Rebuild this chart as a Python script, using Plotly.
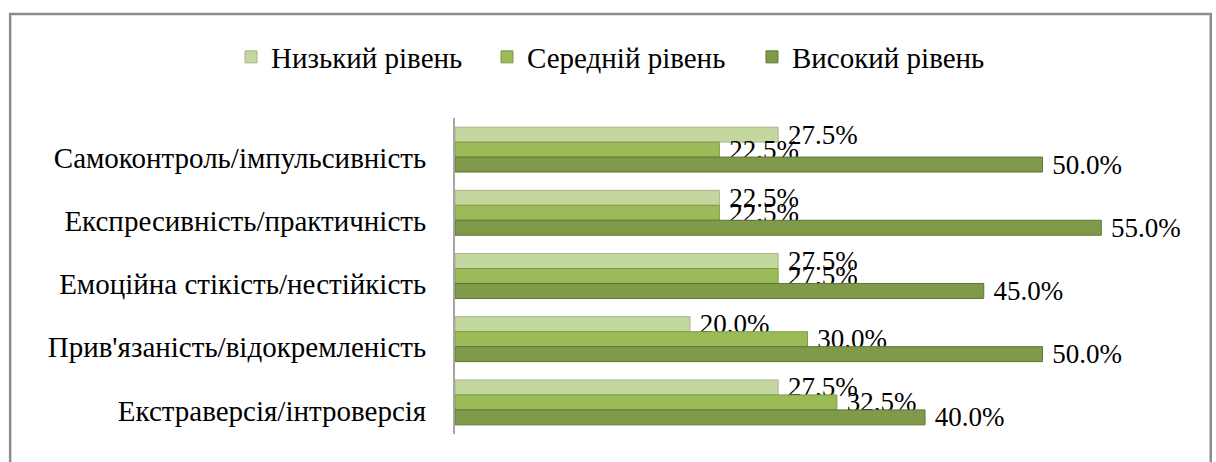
import plotly.graph_objects as go

# Scales (top to bottom as shown)
categories = [
    "Самоконтроль/імпульсивність",
    "Експресивність/практичність",
    "Емоційна стікість/нестійкість",
    "Прив'язаність/відокремленість",
    "Екстраверсія/інтроверсія",
]

low_level = [27.5, 22.5, 27.5, 20.0, 27.5]
mid_level = [22.5, 22.5, 27.5, 30.0, 32.5]
high_level = [50.0, 55.0, 45.0, 50.0, 40.0]

series_names = ["Низький рівень", "Середній рівень", "Високий рівень"]
series_values = [low_level, mid_level, high_level]
fill_colors = ["#C4D79E", "#9BBB59", "#7F9A48"]
edge_colors = ["#A3B58A", "#7E9B45", "#5F7535"]
legend_ids = ["legend", "legend2", "legend3"]
legend_left = [0.19, 0.4005, 0.6184]

FONT = "Times New Roman"

fig = go.Figure()
for name, vals, fc, ec, lg in zip(series_names, series_values, fill_colors,
                                  edge_colors, legend_ids):
    fig.add_trace(go.Bar(
        y=categories,
        x=vals,
        name=name,
        legend=lg,
        orientation="h",
        marker=dict(color=fc, line=dict(color=ec, width=1)),
        texttemplate="\u00a0%{x:.1f}%",
        textposition="outside",
        constraintext="none",
        cliponaxis=False,
        textfont=dict(family=FONT, size=27, color="black"),
    ))

# Chart frame
fig.add_shape(
    type="rect", xref="paper", yref="paper",
    x0=-0.631, x1=1.072, y0=-0.12, y1=1.329,
    line=dict(color="#8C8C8C", width=2.5), layer="below",
)

# One legend box per series, laid out in a row
legend_style = dict(
    orientation="h", xref="container", yref="container",
    xanchor="left", y=1 - 57 / 462, yanchor="middle",
    font=dict(family=FONT, size=29, color="black"),
    bgcolor="rgba(0,0,0,0)", itemwidth=30,
)
legends = {lg: dict(legend_style, x=xl) for lg, xl in zip(legend_ids, legend_left)}

fig.update_layout(
    width=1216, height=462,
    margin=dict(l=455, r=56, t=118, b=28),
    paper_bgcolor="white", plot_bgcolor="white",
    barmode="group", bargap=0.29, bargroupgap=0,
    showlegend=True,
    xaxis=dict(range=[0, 60], showgrid=False, zeroline=False,
               showticklabels=False, ticks="", showline=False),
    yaxis=dict(autorange="reversed", showgrid=False, zeroline=False,
               showline=True, linecolor="#A6A6A6", linewidth=2,
               ticks="", ticklabelstandoff=21, ticklabelshift=-8,
               tickfont=dict(family=FONT, size=29, color="black")),
    **legends,
)

fig.write_html("out.html")
